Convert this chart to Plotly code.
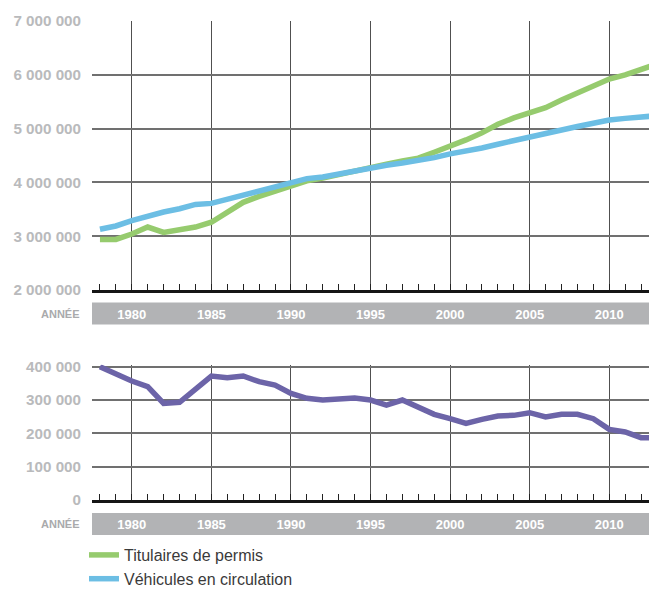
import plotly.graph_objects as go

# ---------------- data ----------------
years = [1978, 1979, 1980, 1981, 1982, 1983, 1984, 1985, 1986, 1987, 1988, 1989,
         1990, 1991, 1992, 1993, 1994, 1995, 1996, 1997, 1998, 1999, 2000, 2001,
         2002, 2003, 2004, 2005, 2006, 2007, 2008, 2009, 2010, 2011, 2012, 2013]

titulaires_permis = [2940000, 2940000, 3040000, 3170000, 3070000, 3110000, 3170000, 3260000,
                     3450000, 3630000, 3740000, 3840000, 3950000, 4030000, 4080000, 4150000,
                     4220000, 4280000, 4340000, 4400000, 4450000, 4560000, 4670000, 4790000,
                     4920000, 5080000, 5200000, 5290000, 5390000, 5530000, 5660000, 5780000,
                     5920000, 6000000, 6100000, 6200000]

vehicules_circulation = [3130000, 3190000, 3290000, 3380000, 3450000, 3510000, 3590000, 3610000,
                         3690000, 3760000, 3850000, 3930000, 4010000, 4070000, 4100000, 4160000,
                         4210000, 4270000, 4320000, 4360000, 4400000, 4460000, 4530000, 4580000,
                         4640000, 4710000, 4780000, 4840000, 4910000, 4980000, 5040000, 5100000,
                         5160000, 5190000, 5220000, 5240000]

serie_3 = [400000, 378000, 357000, 340000, 290000, 293000, 332000, 372000, 367000, 372000,
           355000, 345000, 320000, 305000, 300000, 302000, 306000, 300000, 285000, 300000,
           280000, 257000, 244000, 230000, 242000, 252000, 254000, 262000, 249000, 257000,
           257000, 244000, 212000, 204000, 187000, 187000]

year_ticks = [1980, 1985, 1990, 1995, 2000, 2005, 2010]
year_labels = ["1980", "1985", "1990", "1995", "2000", "2005", "2010"]

top_ticks = [2000000, 3000000, 4000000, 5000000, 6000000, 7000000]
top_labels = ["2 000 000", "3 000 000", "4 000 000", "5 000 000", "6 000 000", "7 000 000"]

bottom_ticks = [0, 100000, 200000, 300000, 400000]
bottom_labels = ["0", "100 000", "200 000", "300 000", "400 000"]

axis_title = "ANNÉE"

# ---------------- style ----------------
# the page body has the browser's default 8px margin, so the figure is sized
# to fit the 657x605 window and positioned in window pixel coordinates
OFF = 8
FW, FH = 657 - OFF, 605 - OFF
GREEN = "#96cb6e"
BLUE = "#6cbee4"
PURPLE = "#6c64a8"
HGRID = "#707070"
VGRID = "#505050"
BAR = "#b2b3b5"
LABEL_GRAY = "#b9babc"
FONT = "Liberation Sans"


def py(p):
    return 1 - (p - OFF) / FH


def px(p):
    return (p - OFF) / FW


fig = go.Figure()
fig.add_trace(go.Scatter(x=years, y=titulaires_permis, name="Titulaires de permis",
                         mode="lines", line=dict(color=GREEN, width=5.5),
                         xaxis="x", yaxis="y"))
fig.add_trace(go.Scatter(x=years, y=vehicules_circulation, name="Véhicules en circulation",
                         mode="lines", line=dict(color=BLUE, width=5.5),
                         xaxis="x", yaxis="y"))
fig.add_trace(go.Scatter(x=years, y=serie_3, name="", showlegend=False,
                         mode="lines", line=dict(color=PURPLE, width=5.5),
                         xaxis="x2", yaxis="y2"))

xcommon = dict(
    domain=[px(92), 1], range=[1977.5, 2013], automargin=False,
    tickmode="array", tickvals=year_ticks, ticktext=year_labels,
    ticks="inside", ticklen=6, tickcolor="#222222", tickwidth=1,
    tickfont=dict(family=FONT, size=13, color="white", weight="bold"),
    ticklabelstandoff=10,
    showgrid=True, gridcolor=VGRID, gridwidth=1.4,
    minor=dict(tickmode="linear", tick0=1978, dtick=1, ticks="inside",
               ticklen=6, tickcolor="#222222", tickwidth=1, showgrid=False),
    showline=True, linecolor="#151515", linewidth=3, zeroline=False,
)

ycommon = dict(
    ticks="", showline=False, zeroline=False, automargin=False,
    showgrid=True, gridcolor=HGRID, gridwidth=1.6,
    tickfont=dict(family=FONT, size=15.2, color=LABEL_GRAY, weight="bold"),
    ticklabelstandoff=10, tickmode="array",
)

fig.update_layout(
    width=FW, height=FH, autosize=False,
    margin=dict(l=0, r=0, t=0, b=0, pad=0, autoexpand=False),
    paper_bgcolor="white", plot_bgcolor="white",
    xaxis=dict(xcommon, anchor="y"),
    xaxis2=dict(xcommon, anchor="y2"),
    yaxis=dict(ycommon, domain=[py(290), py(21)], range=[2000000, 7000000],
               tickvals=top_ticks, ticktext=top_labels, anchor="x"),
    yaxis2=dict(ycommon, domain=[py(500), py(364.7)], range=[0, 406000],
                tickvals=bottom_ticks, ticktext=bottom_labels, anchor="x2"),
    showlegend=True,
    legend=dict(x=px(84), y=py(538), xanchor="left", yanchor="top",
                font=dict(family=FONT, size=16, color="#3a3a3a"),
                bgcolor="rgba(0,0,0,0)", itemwidth=30, tracegroupgap=0),
    shapes=[
        dict(type="rect", xref="paper", yref="paper", x0=px(92), x1=1,
             y0=py(324.5), y1=py(302.5), fillcolor=BAR, line=dict(width=0), layer="below"),
        dict(type="rect", xref="paper", yref="paper", x0=px(92), x1=1,
             y0=py(535), y1=py(513), fillcolor=BAR, line=dict(width=0), layer="below"),
    ],
    annotations=[
        dict(text=axis_title, xref="paper", yref="paper", x=px(82), y=py(313.5),
             xanchor="right", yanchor="middle", showarrow=False,
             font=dict(family=FONT, size=11, color="#a9aaac", weight="bold")),
        dict(text=axis_title, xref="paper", yref="paper", x=px(82), y=py(524),
             xanchor="right", yanchor="middle", showarrow=False,
             font=dict(family=FONT, size=11, color="#a9aaac", weight="bold")),
    ],
)

fig.write_html("out.html")
